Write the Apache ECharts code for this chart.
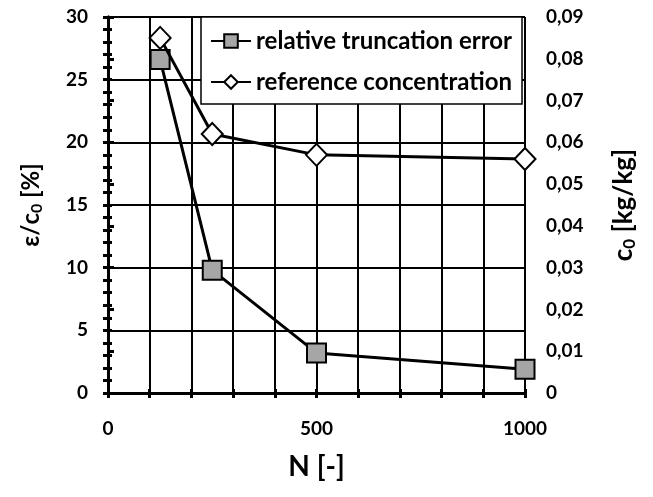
<!DOCTYPE html>
<html><head><meta charset="utf-8">
<script src="https://cdn.jsdelivr.net/npm/echarts@6/dist/echarts.min.js"></script>
<style>html,body{margin:0;padding:0;background:#fff}#c{width:653px;height:497px}</style>
</head><body><div id="c"></div>
<script>
var N = [125, 250, 500, 1000];
var errorPct = [26.6, 9.8, 3.2, 1.9];
var concentration = [0.085, 0.062, 0.057, 0.056];
var seriesNames = ['relative truncation error', 'reference concentration'];
var FONT = 'Lato';
var chart = echarts.init(document.getElementById('c'), null, {renderer: 'canvas'});
var lbl = {color: '#000', fontFamily: FONT, fontWeight: 'bold', fontSize: 19};
function nameStyle(sz) {
  return {color: '#000', fontFamily: FONT, fontWeight: 'bold', fontSize: sz,
    rich: {s: {fontFamily: FONT, fontWeight: 'bold', fontSize: Math.round(sz * 0.65), verticalAlign: 'bottom', padding: [Math.round(sz * 0.45), 0, 0, 0]}}};
}
chart.setOption({
  animation: false,
  grid: {left: 108, right: 128, top: 17, bottom: 104},
  legend: {
    orient: 'vertical', left: 201, top: 17, width: 325,
    backgroundColor: '#fff', borderColor: '#000', borderWidth: 1.5,
    padding: [12, 10, 10, 9], itemGap: 17, itemWidth: 40, itemHeight: 17,
    textStyle: {color: '#000', fontFamily: FONT, fontWeight: 'bold', fontSize: 24},
    data: seriesNames
  },
  xAxis: [{
    type: 'value', min: 0, max: 1000, interval: 500, position: 'bottom',
    name: 'N [-]', nameLocation: 'middle', nameGap: 60, nameTextStyle: nameStyle(28),
    axisLine: {show: true, lineStyle: {color: '#000', width: 3}},
    axisTick: {show: true, length: 5, lineStyle: {color: '#000', width: 3}},
    minorTick: {show: true, splitNumber: 5, length: 5, lineStyle: {color: '#000', width: 3}},
    splitLine: {show: true, lineStyle: {color: '#000', width: 2}},
    minorSplitLine: {show: true, lineStyle: {color: '#000', width: 2}},
    axisLabel: Object.assign({margin: 26, formatter: function (v) { return String(v); }}, lbl)
  }, {
    type: 'value', min: 0, max: 1000, interval: 500, position: 'bottom',
    axisLine: {show: false}, axisLabel: {show: false}, splitLine: {show: false},
    axisTick: {show: true, inside: true, length: 4, lineStyle: {color: '#000', width: 3}},
    minorTick: {show: true, splitNumber: 5, length: 4, lineStyle: {color: '#000', width: 3}}
  }, {
    type: 'value', min: 0, max: 1000, position: 'top',
    axisLine: {show: true, lineStyle: {color: '#000', width: 3}},
    axisLabel: {show: false}, axisTick: {show: false}, splitLine: {show: false}
  }],
  yAxis: [{
    type: 'value', min: 0, max: 30, interval: 5, position: 'left',
    name: 'ε/c{s|0} [%]', nameLocation: 'middle', nameGap: 63, nameRotate: 90, nameTextStyle: nameStyle(24),
    axisLine: {show: true, lineStyle: {color: '#000', width: 3}},
    axisTick: {show: true, length: 5, lineStyle: {color: '#000', width: 3}},
    minorTick: {show: true, splitNumber: 5, length: 5, lineStyle: {color: '#000', width: 3}},
    splitLine: {show: true, lineStyle: {color: '#000', width: 2}},
    axisLabel: Object.assign({margin: 20}, lbl)
  }, {
    type: 'value', min: 0, max: 0.09, interval: 0.01, position: 'right',
    name: 'c{s|0} [kg/kg]', nameLocation: 'middle', nameGap: 84, nameRotate: 90, nameTextStyle: nameStyle(26),
    axisLine: {show: true, lineStyle: {color: '#000', width: 3}},
    axisTick: {show: true, length: 6, lineStyle: {color: '#000', width: 3}},
    splitLine: {show: false},
    axisLabel: Object.assign({margin: 21, formatter: function (v) {
      return v === 0 ? '0' : v.toFixed(2).replace('.', ',');
    }}, lbl)
  }, {
    type: 'value', min: 0, max: 30, interval: 5, position: 'left',
    axisLine: {show: false}, axisLabel: {show: false}, splitLine: {show: false},
    axisTick: {show: true, inside: true, length: 4, lineStyle: {color: '#000', width: 3}},
    minorTick: {show: true, splitNumber: 5, length: 4, lineStyle: {color: '#000', width: 3}}
  }],
  series: [{
    name: seriesNames[0], type: 'line', xAxisIndex: 0, yAxisIndex: 0,
    data: N.map(function (n, i) { return [n, errorPct[i]]; }),
    symbol: 'rect', symbolSize: 19,
    lineStyle: {color: '#000', width: 3},
    itemStyle: {color: '#a6a6a6', borderColor: '#000', borderWidth: 2},
    z: 3
  }, {
    name: seriesNames[1], type: 'line', xAxisIndex: 0, yAxisIndex: 1,
    data: N.map(function (n, i) { return [n, concentration[i]]; }),
    symbol: 'diamond', symbolSize: [21, 22],
    lineStyle: {color: '#000', width: 3},
    itemStyle: {color: '#fff', borderColor: '#000', borderWidth: 2},
    z: 4
  }]
});
</script></body></html>
